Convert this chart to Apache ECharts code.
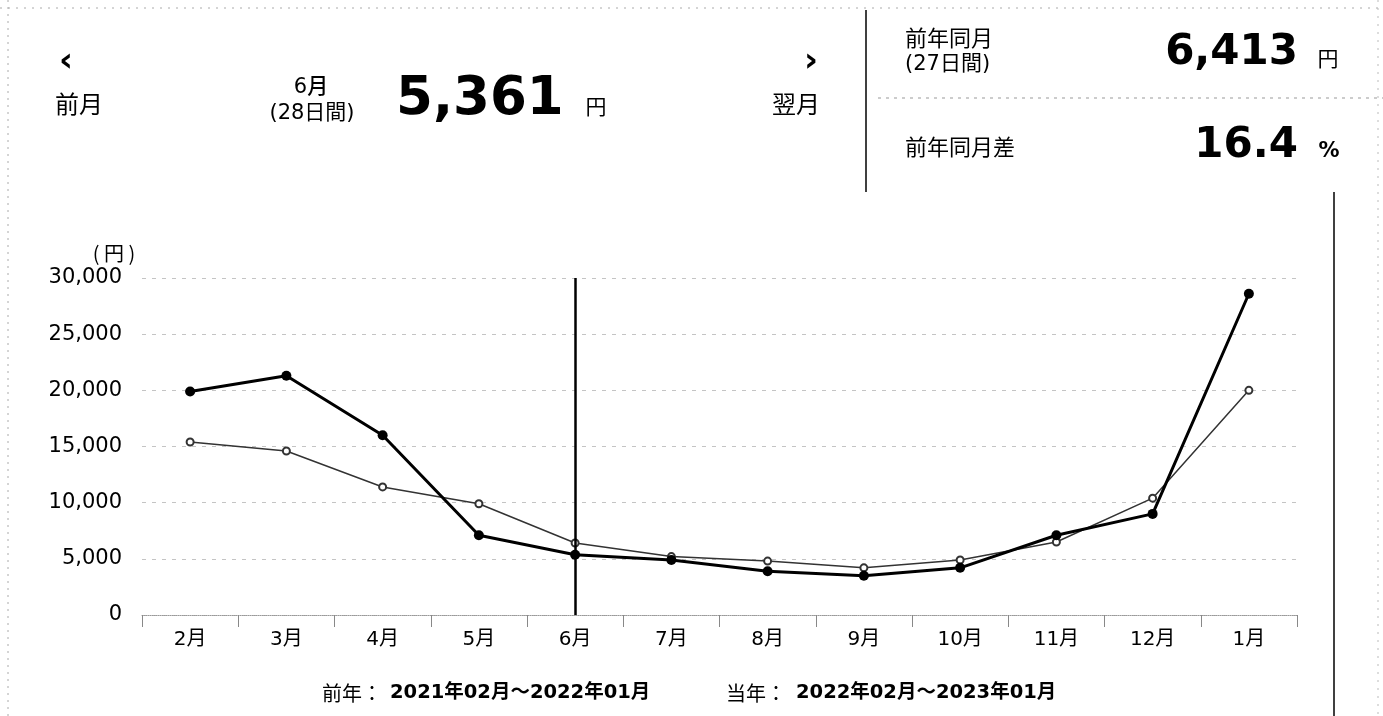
<!DOCTYPE html>
<html><head><meta charset="utf-8">
<script src="https://cdn.jsdelivr.net/npm/echarts@6/dist/echarts.min.js"></script>
<style>html,body{margin:0;padding:0;background:#fff;}#c{width:1383px;height:716px;}</style>
</head><body><div id="c"></div>
<script>
// ---- data ----
const categories = ['2月','3月','4月','5月','6月','7月','8月','9月','10月','11月','12月','1月'];
const currentYear = [19900, 21300, 16000, 7100, 5361, 4900, 3900, 3500, 4200, 7100, 9000, 28600];
const previousYear = [15400, 14600, 11400, 9900, 6413, 5200, 4800, 4200, 4900, 6500, 10400, 20000];
const selectedMonth = '6月';
const yMin = 0, yMax = 30000, yInterval = 5000;
const yUnit = '( 円 )';
const prevLabel = '前年：', prevRange = '2021年02月～2022年01月';
const currLabel = '当年：', currRange = '2022年02月～2023年01月';
const navPrev = '前月', navNext = '翌月';
const monthTitle = '6月', monthDays = '(28日間)', monthValue = '5,361', yen = '円';
const lyTitle = '前年同月', lyDays = '(27日間)', lyValue = '6,413';
const diffTitle = '前年同月差', diffValue = '16.4', pct = '%';

const NUM = '"DejaVu Sans", "Noto Sans CJK JP", sans-serif';
const CJK = '"Noto Sans CJK JP", sans-serif';

function txt(x, y, text, size, opts) {
  opts = opts || {};
  return {
    type: 'text', x: x, y: y, silent: true,
    style: {
      text: text,
      font: (opts.weight || (opts.bold ? 'bold' : 'normal')) + ' ' + size + 'px ' + (opts.family || NUM),
      fill: opts.color || '#000',
      textAlign: opts.align || 'left',
      textVerticalAlign: opts.valign || 'middle'
    }
  };
}
function ln(x1, y1, x2, y2, color, w, dash) {
  return { type: 'line', silent: true, shape: {x1:x1,y1:y1,x2:x2,y2:y2},
    style: { stroke: color, lineWidth: w, lineDash: dash || null } };
}

const chart = echarts.init(document.getElementById('c'));
chart.setOption({
  animation: false,
  backgroundColor: '#fff',
  grid: { left: 142, right: 86, top: 278, bottom: 101 },
  xAxis: {
    type: 'category', data: categories, boundaryGap: true,
    axisLine: { lineStyle: { color: '#999', type: 'dotted', width: 1 } },
    axisTick: { show: true, interval: 0, length: 12, lineStyle: { color: '#888' } },
    axisLabel: { color: '#000', fontSize: 20, fontFamily: NUM, margin: 15 },
    splitLine: { show: false }
  },
  yAxis: {
    type: 'value', min: yMin, max: yMax, interval: yInterval,
    axisLine: { show: false }, axisTick: { show: false },
    axisLabel: { color: '#000', fontSize: 21, fontFamily: NUM, margin: 20,
      formatter: v => v.toLocaleString('en-US') },
    splitLine: { lineStyle: { color: '#c4c4c4', type: [4, 6], width: 1 } }
  },
  series: [
    {
      name: '前年', type: 'line', data: previousYear,
      symbol: 'emptyCircle', symbolSize: 7, z: 2,
      lineStyle: { color: '#333', width: 1.5 },
      itemStyle: { color: '#333', borderWidth: 1.5 }
    },
    {
      name: '当年', type: 'line', data: currentYear,
      symbol: 'circle', symbolSize: 10, z: 3,
      lineStyle: { color: '#000', width: 3 },
      itemStyle: { color: '#000' },
      markLine: {
        silent: true, symbol: ['none', 'none'], label: { show: false },
        lineStyle: { color: '#000', width: 2.5, type: 'solid' },
        data: [{ xAxis: selectedMonth }]
      }
    }
  ],
  graphic: [
    ln(8, 0, 8, 716, '#aaa', 1, [2, 5]),
    ln(0, 8, 1383, 8, '#aaa', 1, [2, 6]),
    ln(866, 10, 866, 192, '#000', 1.5),
    ln(878, 98, 1383, 98, '#999', 1, [3, 5]),
    ln(1334, 192, 1334, 716, '#000', 1.5),
    ln(1378, 0, 1378, 716, '#bbb', 1, [2, 6]),
    txt(66, 62, '‹', 34, { bold: true, align: 'center' }),
    txt(55, 104, navPrev, 24, { family: CJK }),
    txt(811, 62, '›', 34, { bold: true, align: 'center' }),
    txt(796, 104, navNext, 24, { family: CJK, align: 'center' }),
    txt(311, 88, monthTitle, 21, { align: 'center', weight: 500 }),
    txt(312, 114, monthDays, 21, { align: 'center' }),
    txt(396, 100, monthValue, 53, { bold: true }),
    txt(596, 106, yen, 21, { family: CJK, align: 'center' }),
    txt(905, 38, lyTitle, 22, { family: CJK }),
    txt(905, 65, lyDays, 21),
    txt(1298, 53, lyValue, 42, { bold: true, align: 'right' }),
    txt(1328, 58, yen, 21, { family: CJK, align: 'center' }),
    txt(905, 147, diffTitle, 22, { family: CJK }),
    txt(1298, 146, diffValue, 42, { bold: true, align: 'right' }),
    txt(1329, 152, pct, 21, { bold: true, align: 'center' }),
    txt(114, 253, yUnit, 20, { family: CJK, align: 'center' }),
    txt(322, 693, prevLabel, 20, { family: CJK }),
    txt(390, 693, prevRange, 19.5, { bold: true }),
    txt(726, 693, currLabel, 20, { family: CJK }),
    txt(796, 693, currRange, 19.5, { bold: true })
  ]
});
</script></body></html>
